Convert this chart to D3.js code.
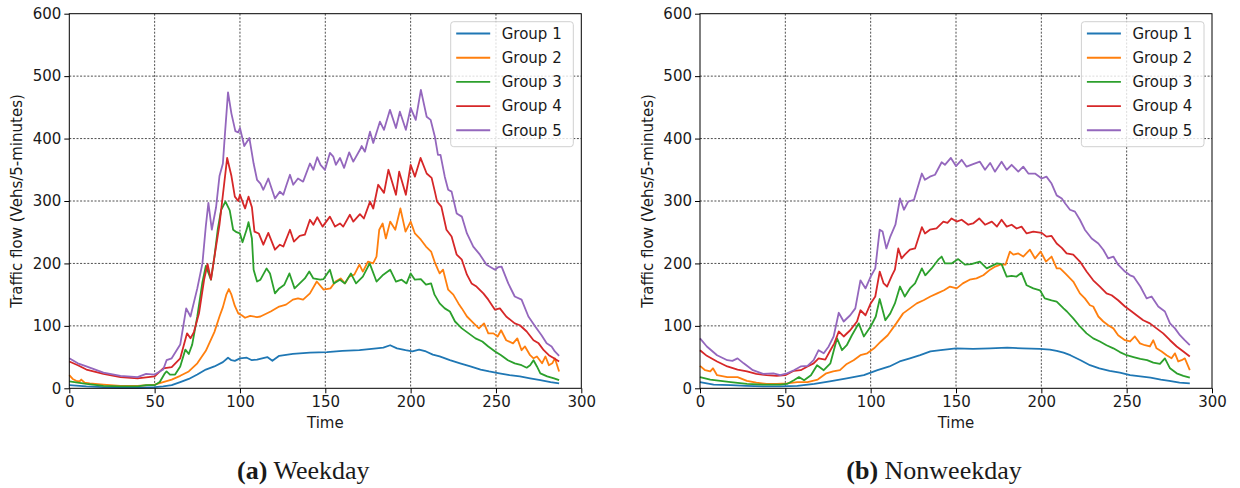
<!DOCTYPE html>
<html>
<head>
<meta charset="utf-8">
<script src="https://d3js.org/d3.v7.min.js"></script>
<style>
  body { margin: 0; background: #fff; }
  svg text { font-family: "DejaVu Sans", sans-serif; fill: #1a1a1a; }
  .caption text, text.caption { font-family: "Liberation Serif", "Times New Roman", serif; }
</style>
</head>
<body>
<div id="chart"></div>
<script>
// groups + colours (matplotlib tab10)
var groups = ["Group 1", "Group 2", "Group 3", "Group 4", "Group 5"];
var colors = ["#1f77b4", "#ff7f0e", "#2ca02c", "#d62728", "#9467bd"];
var xTicks = [0, 50, 100, 150, 200, 250, 300];
var yTicks = [0, 100, 200, 300, 400, 500, 600];

// ---- Weekday, [time index, vehs / 5 min] ----
var wkG1 = [[0,5],[10,3],[20,2],[30,1],[40,1],[50,2],[55,3],[60,5],[65,10],[70,15],[75,22],[80,30],[85,35],[90,42],[93,49],[95,45],[97,44],[100,48],[104,49],[107,45],[110,46],[116,50],[119,44],[123,52],[131,55],[141,57],[151,58],[160,60],[170,61],[180,64],[184,65],[188,69],[192,64],[197,61],[201,59],[205,62],[209,59],[213,54],[217,51],[223,45],[229,40],[235,35],[241,30],[246,27],[252,24],[258,21],[264,19],[270,16],[276,13],[282,10],[287,8]];
var wkG2 = [[0,21],[2,15],[4,12],[6,11],[7,14],[9,9],[12,8],[20,6],[30,4],[40,4],[50,6],[55,10],[60,14],[65,20],[70,27],[75,40],[80,60],[85,90],[88,115],[90,130],[92,150],[93.5,159],[95,150],[97,132],[99,120],[101,117],[103,113],[106,116],[110,114],[112,115],[118,123],[123,131],[127,134],[131,142],[134,144],[137,142],[141,152],[145,171],[149,158],[153,160],[156,171],[159,176],[161.5,168],[164,179],[167,182],[170,198],[172,187],[175,203],[178,200],[180,211],[181.6,254],[183.6,264],[185.5,240],[188,267],[191,254],[194,288],[197,251],[200,267],[202.5,248],[206,238],[209,227],[212,219],[214,203],[216,190],[217,184],[219,190],[222,158],[225,150],[228,136],[230,128],[233,115],[237,104],[240,96],[243,104],[245.5,88],[248.5,88],[251,83],[253,93],[256,77],[260,72],[262.5,80],[265,61],[267,67],[270,53],[272,48],[274,51],[277,40],[279,51],[281,37],[283,40],[284.5,48],[287,27]];
var wkG3 = [[0,11],[5,9],[10,7],[20,4],[30,3],[40,3],[45,5],[50,5],[53,10],[56,24],[57,27],[59,22],[62,22],[65,35],[68,62],[70,55],[72,70],[75,115],[78,170],[80,196],[83,174],[85,210],[87,255],[89,286],[91.5,299],[94,285],[96,254],[98,250],[100,248],[101.5,234],[104,255],[105,266],[107,240],[108,190],[110,171],[112,174],[115.6,192],[117.6,184],[120.5,152],[123,160],[126,166],[129,184],[132,160],[135,168],[138,176],[140.6,187],[143,176],[147,174],[149,175],[152.7,190],[155,168],[158.6,174],[161.5,168],[165,184],[168,168],[172,179],[176,200],[180,171],[184,182],[188,190],[191.4,171],[194.7,174],[197.6,168],[200,184],[202.5,174],[206,175],[209,166],[212,168],[214,150],[217,136],[220,128],[223,123],[226,107],[230,96],[234,88],[238,80],[242,75],[245.5,67],[249.5,59],[253,53],[257,45],[261,40],[265,37],[268,33],[270,37],[272,45],[274,35],[276,24],[280,19],[284,16],[287,13]];
var wkG4 = [[0,43],[5,37],[10,30],[20,23],[30,18],[40,16],[50,19],[55,32],[60,34],[65,48],[69,88],[71,80],[73,90],[76,120],[79,174],[81,199],[83,174],[85,210],[88,262],[90,310],[92.5,369],[95,340],[97,307],[99,300],[100,310],[102,295],[103,288],[105,307],[107,290],[108.5,251],[111,248],[113.7,230],[116.6,249],[120.5,222],[123.4,230],[125.4,227],[129.3,254],[131.6,235],[135,244],[138,246],[141,270],[143,262],[145.3,274],[148.4,259],[152.7,275],[155.7,259],[158.6,264],[160.5,259],[164.4,278],[166.4,267],[170.3,279],[172.6,272],[176.2,299],[178.1,288],[181,326],[184.4,313],[187,350],[191.4,310],[193.3,347],[197.2,310],[200,358],[202.5,339],[205.8,369],[209.4,344],[212.3,337],[214.2,315],[215.5,299],[218,291],[221,254],[224,243],[227,214],[230,206],[233,182],[235.7,168],[238.6,163],[242.6,152],[245.5,142],[249.4,126],[252.3,128],[256,115],[261,104],[264,101],[268,91],[272,77],[275,72],[278,61],[281,53],[284,48],[287,43]];
var wkG5 = [[0,48],[5,40],[10,35],[20,25],[30,20],[40,18],[45,23],[50,22],[55,30],[57,45],[60,48],[65,70],[68.5,128],[71,115],[75,160],[78,200],[80,260],[81.5,297],[83.5,254],[86,290],[88,340],[90,360],[91,400],[93,474],[95,440],[97.3,412],[99,410],[100,417],[102.5,388],[105.5,401],[108,360],[110,334],[112,328],[113.7,318],[116.6,336],[120.5,304],[123.4,315],[125.4,310],[127.3,326],[129.3,342],[131.2,326],[134,336],[137,331],[141,360],[143,350],[145.3,370],[147.2,358],[149.8,350],[152.7,377],[154.7,371],[156.2,358],[158.6,369],[161,353],[164,378],[166.4,363],[170.3,382],[171.3,388],[173.2,379],[176.2,411],[178.1,393],[182,427],[184.4,414],[187.9,446],[191.4,417],[193.7,443],[197.2,414],[200,449],[203,430],[206,478],[209.4,435],[211.7,430],[214.2,403],[216,374],[217.5,374],[220,339],[222,318],[224,315],[227,280],[230,275],[233,248],[236.7,227],[240.6,214],[244.5,198],[249.4,190],[251.3,194],[253.3,195],[257.2,168],[261,147],[265,142],[269,115],[273,99],[276.7,85],[279.7,72],[282.6,67],[284.5,59],[287,52]];

// ---- Nonweekday ----
var nwG1 = [[0,10],[8,6],[18,5],[27,4],[37,3],[47,3],[57,4],[67,7],[76,11],[86,16],[96,21],[104,29],[111,35],[117,43],[123,48],[129,53],[135,59],[141,61],[150,64],[160,63],[170,64],[180,65],[189,64],[199,63],[205,62],[209,60],[213,57],[217,53],[223,45],[228.5,37],[234,32],[240,28],[246,25],[252,21],[258,19],[264,17],[270,14],[275,12],[281,9],[287,8]];
var nwG2 = [[0,36],[3,29],[6,27],[7.6,32],[10,21],[16,18],[22,18],[27.5,12],[33,9],[39,7],[45,7],[51,8],[57,10],[63,10],[69,14],[74,24],[78,27],[82,29],[86,39],[90,45],[94,53],[98,56],[102,64],[106,75],[110,85],[115,104],[119,120],[123,128],[127,136],[131,141],[135,147],[139,152],[143,157],[146.5,163],[150.4,160],[154,168],[158,174],[162,176],[166,181],[170,190],[173,195],[176,198],[179,198],[181.6,219],[183.6,214],[186.5,216],[189.4,211],[193.3,222],[196.3,208],[199.6,219],[202.7,203],[206,211],[209,192],[211,192],[214,184],[218.7,171],[222.6,152],[225.5,144],[228.5,133],[230.4,131],[233.4,115],[236.3,107],[239.2,101],[242.2,96],[245,85],[249,77],[252,75],[254.8,83],[257.8,72],[260.7,69],[263.6,67],[265.6,77],[267.5,64],[270.5,59],[273.4,53],[276.3,48],[278.3,56],[280.2,43],[282.2,45],[284.1,48],[287,29]];
var nwG3 = [[0,18],[6,14],[12,12],[18,10],[27.5,7],[37,6],[47,6],[51,7],[55,13],[58,18],[61,13],[65,21],[68.6,37],[72.5,29],[76.4,40],[80.3,80],[83.2,61],[86,69],[89,85],[93,104],[96,83],[100,99],[103,115],[105.3,143],[108.6,109],[111.5,120],[114.2,136],[117.2,163],[120,147],[123,160],[126,168],[130,192],[132,181],[135.7,192],[139.6,206],[141.6,211],[143.5,200],[147.4,200],[151.3,207],[155.2,198],[159,199],[164,203],[168,192],[171,196],[174,200],[176.7,199],[179.7,179],[182.6,180],[185.5,179],[188.4,185],[191.4,165],[195.3,160],[199.2,157],[202,144],[206,141],[209,139],[213,128],[215,123],[218.7,112],[222.6,99],[226.5,88],[230.4,80],[234.3,75],[238.2,69],[242.2,64],[246,58],[250,53],[254,50],[258,47],[262,45],[265.6,41],[269.5,39],[272.4,48],[275.4,32],[279.3,24],[283.2,20],[287,17]];
var nwG4 = [[0,61],[4,52],[10,43],[16,35],[22,30],[27.5,27],[33,23],[39,21],[45,20],[50,21],[55,28],[59,29],[63,35],[66.6,40],[69.5,48],[73.4,46],[76.4,61],[78.7,72],[81.3,91],[84.2,83],[88,93],[92,107],[94,125],[97,117],[100,136],[102.7,147],[105.3,187],[107.6,168],[109.6,163],[112.5,181],[114.2,190],[116.2,224],[118.1,208],[120,214],[123,222],[126,224],[130,258],[131.8,248],[134.7,254],[138.6,256],[142.6,267],[145,265],[147.4,272],[150.4,267],[153.3,270],[157.2,262],[160,264],[163.6,272],[167,262],[171,267],[174,259],[176.7,270],[179.7,259],[182.6,262],[185.5,256],[188.4,259],[191.4,248],[195.3,251],[200.2,249],[203,243],[206,244],[209,232],[212,225],[214.8,216],[218.7,214],[222.6,203],[226.5,187],[230.4,173],[234.3,163],[238.2,152],[241.2,149],[245,141],[249,131],[252,125],[255.8,117],[259.7,109],[263.6,104],[267.5,96],[271.4,88],[275.4,77],[279.3,67],[283.2,59],[287,51]];
var nwG5 = [[0,80],[4,67],[10,53],[16,45],[19,44],[22,48],[25.6,40],[31,29],[37,23],[43,24],[47,21],[51,24],[55,29],[59,35],[63,36],[66.6,45],[69.5,61],[72.5,56],[75.4,67],[78.3,83],[81.3,121],[84.2,107],[88,117],[91,128],[94,173],[97,160],[100,179],[102.7,192],[105.3,254],[107,251],[109.2,224],[111.5,243],[114.5,262],[117.2,304],[119.5,286],[122,299],[125.4,302],[130,344],[131.8,334],[134.7,339],[137.7,342],[141.6,362],[143.5,358],[147,369],[150,356],[153.3,366],[156.2,355],[160,359],[164,363],[167,350],[170,361],[172.8,347],[176.7,363],[179.7,350],[182.6,358],[186.5,347],[189.4,355],[192.4,344],[196.3,344],[200.2,336],[203,339],[206,328],[209,309],[212,304],[214,296],[216.8,286],[219.7,283],[222.6,270],[225.5,254],[229.5,240],[233.4,232],[236.3,222],[239.2,208],[242.2,211],[245,198],[249,187],[252,181],[254,179],[258,163],[261.7,144],[264.6,147],[268.5,131],[272.4,123],[275.4,104],[278.3,96],[281.2,85],[284,77],[287,69]];

var svgWidth = 1240;
var svgHeight = 488;

var svg = d3.select("#chart")
  .append("svg")
  .attr("width", svgWidth)
  .attr("height", svgHeight);

function drawPanel(left, series, tag, title) {
  var width = 512;
  var top = 13.7;
  var height = 374.6;

  var x = d3.scaleLinear().domain([0, 300]).range([0, width]);
  var y = d3.scaleLinear().domain([0, 600]).range([height, 0]);

  var g = svg.append("g")
    .attr("transform", `translate(${left}, ${top})`);

  // grid
  g.append("g").selectAll("line.vg")
    .data(xTicks.slice(1, -1))
    .enter().append("line")
    .attr("x1", d => x(d)).attr("x2", d => x(d))
    .attr("y1", 0).attr("y2", height)
    .attr("stroke", "#222").attr("stroke-width", 0.8)
    .attr("stroke-dasharray", "2,1.6");
  g.append("g").selectAll("line.hg")
    .data(yTicks.slice(1, -1))
    .enter().append("line")
    .attr("x1", 0).attr("x2", width)
    .attr("y1", d => y(d)).attr("y2", d => y(d))
    .attr("stroke", "#222").attr("stroke-width", 0.8)
    .attr("stroke-dasharray", "2,1.6");

  // series
  var line = d3.line()
    .x(d => x(d[0]))
    .y(d => y(d[1]));

  series.forEach(function(s, i) {
    g.append("path")
      .datum(s)
      .attr("fill", "none")
      .attr("stroke", colors[i])
      .attr("stroke-width", 1.8)
      .attr("stroke-linejoin", "round")
      .attr("d", line);
  });

  // axes
  var bottomAxis = d3.axisBottom(x).tickValues(xTicks).tickSize(5).tickPadding(3);
  var leftAxis = d3.axisLeft(y).tickValues(yTicks).tickSize(5).tickPadding(3);

  var bx = g.append("g")
    .attr("transform", `translate(0, ${height})`)
    .call(bottomAxis);
  var ly = g.append("g").call(leftAxis);
  [bx, ly].forEach(function(a) {
    a.select(".domain").remove();
    a.selectAll(".tick line").attr("stroke", "#000").attr("stroke-width", 1);
    a.selectAll(".tick text").style("font-size", "15px").attr("fill", "#1a1a1a");
  });

  // frame
  g.append("rect")
    .attr("x", 0).attr("y", 0)
    .attr("width", width).attr("height", height)
    .attr("fill", "none")
    .attr("stroke", "#000")
    .attr("stroke-width", 1);

  // axis labels
  g.append("text")
    .attr("x", width / 2)
    .attr("y", height + 40)
    .attr("text-anchor", "middle")
    .style("font-size", "15px")
    .text("Time");

  g.append("text")
    .attr("transform", "rotate(-90)")
    .attr("x", -height / 2)
    .attr("y", -47)
    .attr("text-anchor", "middle")
    .style("font-size", "15px")
    .text("Traffic flow (Vehs/5-minutes)");

  // legend
  var lg = g.append("g")
    .attr("transform", `translate(${width - 130.6}, 8)`);
  lg.append("rect")
    .attr("width", 122.6).attr("height", 125)
    .attr("rx", 3).attr("ry", 3)
    .attr("fill", "#fff").attr("fill-opacity", 0.8)
    .attr("stroke", "#d0d0d0").attr("stroke-width", 1);
  groups.forEach(function(name, i) {
    var yy = 11.8 + i * 24.2;
    lg.append("line")
      .attr("x1", 5.5).attr("x2", 39.5)
      .attr("y1", yy).attr("y2", yy)
      .attr("stroke", colors[i]).attr("stroke-width", 1.9);
    lg.append("text")
      .attr("x", 51)
      .attr("y", yy)
      .attr("dy", "0.36em")
      .style("font-size", "15px")
      .text(name);
  });

  // caption
  var cap = svg.append("text")
    .attr("class", "caption")
    .attr("x", left + width / 2 - 22)
    .attr("y", 479)
    .attr("text-anchor", "middle")
    .style("font-size", "26px")
    .attr("fill", "#000");
  cap.append("tspan").style("font-weight", "bold").text(tag);
  cap.append("tspan").text(" " + title);
}

drawPanel(69.3, [wkG1, wkG2, wkG3, wkG4, wkG5], "(a)", "Weekday");
drawPanel(700, [nwG1, nwG2, nwG3, nwG4, nwG5], "(b)", "Nonweekday");
</script>
</body>
</html>
